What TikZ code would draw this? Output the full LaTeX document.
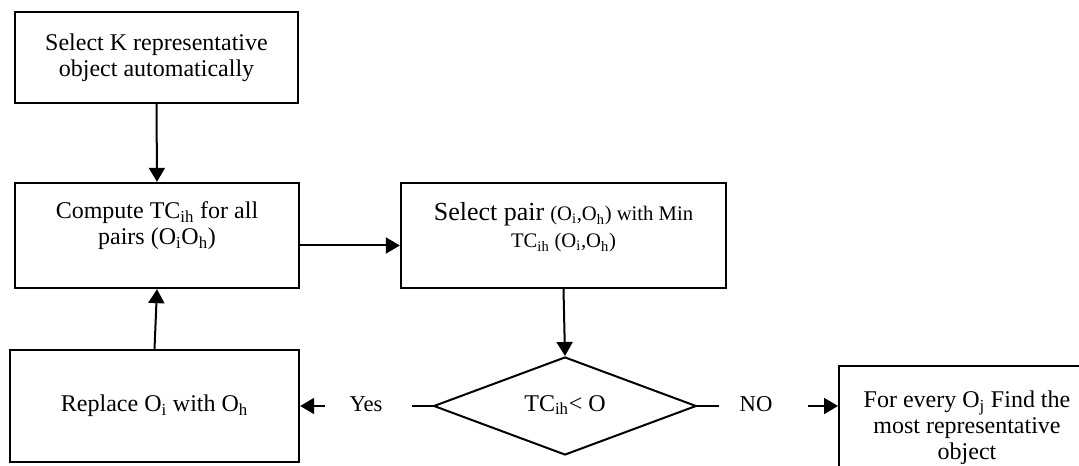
\documentclass[tikz,border=0pt]{standalone}
\usepackage{fontspec}
\setmainfont{Liberation Serif}
\usetikzlibrary{shapes.geometric,arrows.meta}
\tikzset{
  box/.style={draw, line width=1.5pt, align=center, inner sep=0pt},
  wire/.style={line width=1.5pt},
  arr/.style={wire, -{Triangle[length=10.5pt,width=12pt]}}
}
\newcommand{\lo}[1]{\textsubscript{#1}}
\begin{document}
\begin{tikzpicture}[x=0.75pt, y=-0.75pt, font=\fontsize{18}{19.5}\selectfont]
	\useasboundingbox (0,0) rectangle (1079,466);
	\clip (0,0) rectangle (1079,466);
	% boxes
	\node[box, minimum width=212pt, minimum height=68pt] (pick) at (156.5,57.5) {Select K representative\\object automatically};
	\node[box, minimum width=213pt, minimum height=79pt] (cost) at (157,235.5) {};
	\node[box, minimum width=244pt, minimum height=79pt] (pair) at (563.5,235.5) {};
	\node[box, minimum width=217pt, minimum height=84pt] (swap) at (154.5,406) {Replace O\lo{i} with O\lo{h}};
	\node[box, minimum width=192pt, minimum height=93pt] (best) at (967,428) {For every O\lo{j} Find the\\most representative\\object};
	\node[draw, line width=1.5pt, shape=diamond, aspect=2.68, minimum width=197pt, minimum height=73.5pt, inner sep=0pt] (test) at (565,406) {};
	% texts
	\node[align=center] (costtext) at (157,226) {Compute TC\lo{ih} for all\\pairs (O\lo{i}O\lo{h})};
	\node[align=center] (pairtext) at (563.5,227.5) {{\fontsize{19.5}{21}\selectfont Select pair} {\fontsize{15.5}{17}\selectfont (O\lo{i},O\lo{h}) with Min}\\[1pt]{\fontsize{15.5}{17}\selectfont TC\lo{ih} (O\lo{i},O\lo{h})}};
	\node (testtext) at (565,405) {TC\lo{ih}< O};
	% branches
	\coordinate (yesa) at (412,406); \coordinate (yesb) at (325,406);
	\coordinate (noa) at (719,406); \coordinate (nob) at (808,406);
	\node[font=\fontsize{17}{19}\selectfont] (yes) at (366,404) {Yes};
	\node[font=\fontsize{17}{19}\selectfont] (no) at (756,404) {NO};
	% connectors
	\draw[arr] (pick.south) -- (cost.north);
	\draw[arr] ([yshift=-7.5pt]cost.east) -- ([yshift=-7.5pt]pair.west);
	\draw[arr] (pair.south) -- (test.north);
	\draw[wire] (test.west) -- (yesa) (test.east) -- (noa);
	\draw[arr] (yesb) -- (swap.east);
	\draw[arr] (nob) -- (nob -| best.west);
	\draw[arr] (swap.north) -- (cost.south);
\end{tikzpicture}
\end{document}
